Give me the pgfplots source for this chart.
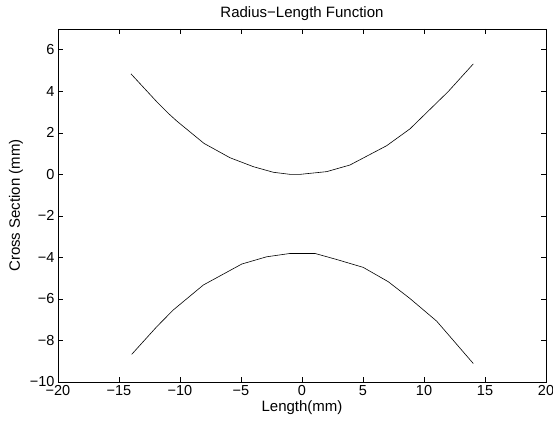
\documentclass[border=0pt]{standalone}
\usepackage{fontspec}
\setmainfont{Liberation Sans}
\usepackage{pgfplots}
\usepackage{pgfplotstable}
\pgfplotsset{compat=1.18}

% upper and lower branch of the radius-length curve
\pgfplotstableread{
x y
-14.02 4.84
-11.91 3.50
-10.96 2.94
-10.27 2.57
-8.03 1.49
-5.90 0.80
-3.99 0.37
-2.35 0.10
-0.98 0.00
-0.16 0.00
2.02 0.13
3.93 0.45
6.94 1.38
8.85 2.19
11.99 3.99
14.04 5.32
}\upperdata
\pgfplotstableread{
x y
-13.96 -8.67
-11.91 -7.34
-10.55 -6.53
-8.09 -5.33
-4.94 -4.32
-2.90 -3.97
-0.98 -3.81
1.07 -3.81
2.84 -4.10
5.02 -4.48
7.07 -5.17
8.85 -5.98
11.04 -7.07
14.04 -9.11
}\lowerdata

\begin{document}
\begin{tikzpicture}[x=1pt,y=1pt]
\path[use as bounding box] (-58,-46) rectangle (495,382);
\begin{axis}[
    scale only axis, width=488pt, height=353pt,
    at={(0,0)}, anchor=south west,
    xmin=-20, xmax=20, ymin=-10, ymax=7,
    xtick={-20,-15,...,20},
    xticklabels={−20,−15,−10,−5,0,5,10,15,20},
    ytick={-10,-8,...,6},
    yticklabels={−10,−8,−6,−4,−2,0,2,4,6},
    tick align=inside, major tick length=5pt,
    every tick/.style={black, line width=0.6pt},
    axis line style={black, line width=0.8pt},
    font=\fontsize{15}{17}\selectfont,
    tick label style={font=\fontsize{14.5}{16}\selectfont},
    title={Radius−Length Function},
    title style={yshift=-1pt},
    xlabel={Length(mm)},
    ylabel={Cross Section (mm)},
    xlabel style={yshift=2pt},
]
\addplot[black, line width=0.6pt] table {\upperdata};
\addplot[black, line width=0.6pt] table {\lowerdata};
\end{axis}
\end{tikzpicture}
\end{document}
